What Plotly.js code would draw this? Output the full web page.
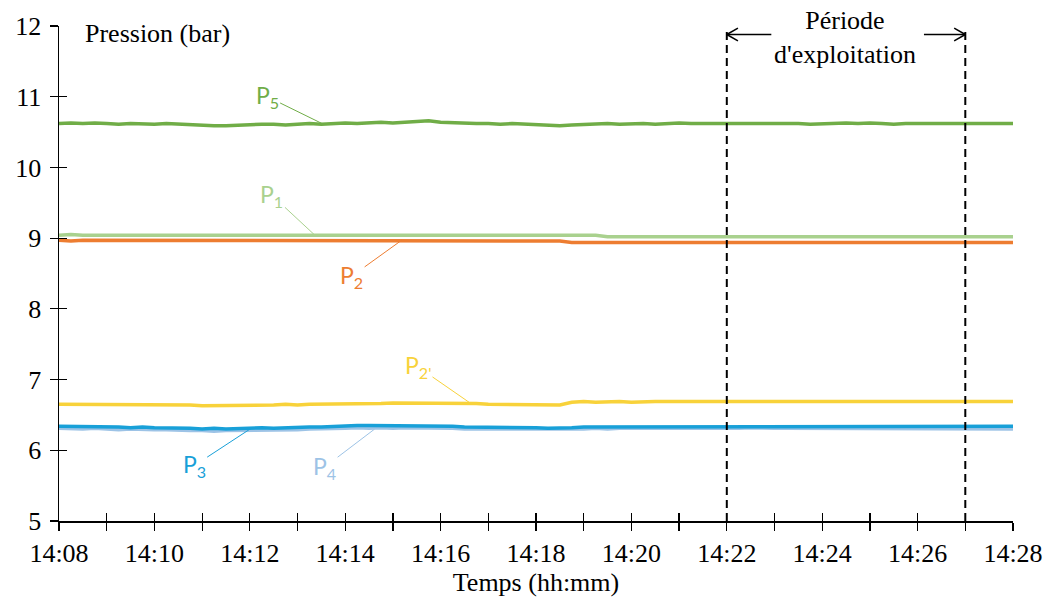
<!DOCTYPE html>
<html>
<head>
<meta charset="utf-8">
<script src="https://cdn.plot.ly/plotly-3.0.1.min.js"></script>
<style>html,body{margin:0;padding:0;background:#fff;}#chart{width:1048px;height:599px;}</style>
</head>
<body>
<div id="chart"></div>
<script>
// Sample times: every 15 s from 14:08:00 to 14:28:00
const startTime = '2000-01-01 14:08:00';
const stepSeconds = 15;
const nSamples = 81;

const P5 = [10.62,10.63,10.62,10.63,10.62,10.61,10.62,10.61,10.61,
  10.62,10.61,10.60,10.60,10.59,10.59,10.60,10.60,
  10.61,10.61,10.60,10.61,10.62,10.61,10.62,10.63,
  10.62,10.63,10.64,10.63,10.64,10.65,10.66,10.64,
  10.63,10.63,10.62,10.62,10.61,10.62,10.61,10.60,
  10.59,10.59,10.60,10.61,10.61,10.62,10.61,10.62,
  10.62,10.61,10.62,10.63,10.62,10.62,10.63,10.62,
  10.63,10.62,10.62,10.63,10.62,10.62,10.61,10.62,
  10.62,10.63,10.62,10.63,10.62,10.61,10.62,10.62,
  10.61,10.62,10.61,10.62,10.61,10.61,10.62,10.62];

const P1 = [9.04,9.05,9.04,9.04,9.05,9.04,9.04,9.05,9.04,
  9.04,9.05,9.04,9.04,9.05,9.04,9.04,9.04,
  9.04,9.04,9.05,9.04,9.04,9.05,9.04,9.04,
  9.04,9.05,9.04,9.04,9.05,9.04,9.05,9.04,
  9.04,9.05,9.04,9.04,9.04,9.04,9.04,9.04,
  9.04,9.04,9.04,9.04,9.04,9.02,9.02,9.03,
  9.02,9.02,9.03,9.02,9.02,9.02,9.03,9.02,
  9.02,9.03,9.02,9.02,9.03,9.03,9.02,9.03,
  9.03,9.02,9.03,9.02,9.03,9.02,9.03,9.02,
  9.02,9.03,9.02,9.02,9.03,9.02,9.02,9.02];

const P2 = [8.97,8.96,8.97,8.97,8.96,8.97,8.97,8.96,8.97,
  8.97,8.96,8.97,8.97,8.96,8.97,8.96,8.97,
  8.96,8.97,8.96,8.97,8.96,8.97,8.96,8.97,
  8.97,8.96,8.97,8.96,8.97,8.96,8.97,8.97,
  8.97,8.96,8.97,8.97,8.97,8.97,8.97,8.97,
  8.97,8.96,8.94,8.94,8.94,8.94,8.95,8.94,
  8.94,8.95,8.94,8.94,8.94,8.95,8.94,8.94,
  8.94,8.94,8.95,8.94,8.94,8.95,8.94,8.94,
  8.95,8.94,8.94,8.95,8.94,8.94,8.94,8.95,
  8.94,8.94,8.95,8.94,8.94,8.94,8.94,8.94];

const P2p = [6.65,6.65,6.64,6.65,6.65,6.65,6.64,6.65,6.65,
  6.64,6.64,6.64,6.63,6.63,6.64,6.63,6.64,
  6.64,6.64,6.65,6.64,6.65,6.65,6.65,6.65,
  6.65,6.66,6.66,6.67,6.67,6.66,6.67,6.67,
  6.67,6.66,6.66,6.65,6.65,6.65,6.64,6.64,
  6.64,6.64,6.68,6.69,6.68,6.69,6.69,6.68,
  6.69,6.69,6.69,6.69,6.69,6.69,6.69,6.69,
  6.69,6.69,6.69,6.69,6.69,6.69,6.69,6.69,
  6.69,6.69,6.69,6.69,6.69,6.69,6.69,6.69,
  6.69,6.69,6.69,6.69,6.69,6.69,6.69,6.69];

const P3 = [6.34,6.34,6.33,6.34,6.33,6.33,6.32,6.33,6.32,
  6.32,6.31,6.31,6.30,6.31,6.30,6.31,6.31,
  6.32,6.31,6.32,6.32,6.33,6.33,6.34,6.35,
  6.35,6.35,6.35,6.35,6.35,6.35,6.35,6.35,
  6.34,6.33,6.33,6.32,6.32,6.32,6.32,6.32,
  6.31,6.31,6.32,6.33,6.33,6.33,6.34,6.33,
  6.34,6.34,6.34,6.34,6.34,6.34,6.34,6.34,
  6.34,6.34,6.34,6.34,6.34,6.34,6.33,6.34,
  6.34,6.34,6.34,6.33,6.34,6.34,6.34,6.34,
  6.34,6.34,6.34,6.34,6.33,6.34,6.34,6.34];

const P4 = [6.31,6.30,6.30,6.31,6.30,6.29,6.30,6.29,6.29,
  6.29,6.28,6.28,6.28,6.27,6.28,6.28,6.28,
  6.29,6.28,6.29,6.29,6.30,6.30,6.31,6.31,
  6.32,6.31,6.32,6.31,6.32,6.32,6.31,6.32,
  6.31,6.30,6.30,6.30,6.29,6.29,6.29,6.29,
  6.29,6.29,6.30,6.30,6.31,6.30,6.31,6.31,
  6.31,6.31,6.31,6.30,6.31,6.31,6.31,6.31,
  6.31,6.32,6.31,6.31,6.31,6.31,6.30,6.31,
  6.31,6.31,6.31,6.30,6.31,6.31,6.31,6.31,
  6.30,6.31,6.31,6.31,6.30,6.31,6.31,6.30];

const xMinuteTicks = ['14:08','14:09','14:10','14:11','14:12','14:13','14:14','14:15','14:16','14:17','14:18',
  '14:19','14:20','14:21','14:22','14:23','14:24','14:25','14:26','14:27','14:28'];
const periodStart = '14:22';
const periodEnd = '14:27';

const day = '2000-01-01 ';
function pad(n){return (n<10?'0':'')+n;}
const times = [];
{
  const t0 = new Date(startTime.replace(' ','T'));
  for (let i=0;i<nSamples;i++){
    const d = new Date(t0.getTime()+i*stepSeconds*1000);
    times.push(day+pad(d.getHours())+':'+pad(d.getMinutes())+':'+pad(d.getSeconds()));
  }
}
const tv = xMinuteTicks.map(s=>day+s);

const C = {P5:'#70AD47',P1:'#A9D18E',P2:'#ED7D31',P2p:'#F8D23A',P3:'#18A0D8',P4:'#9DC3E6'};
const serif = 'Liberation Serif';
const sans = 'Lato';
const fs = 26;

function tr(y,c){return {x:times,y:y,type:'scatter',mode:'lines',line:{color:c,width:3.5},hoverinfo:'skip',showlegend:false};}
const data = [tr(P4,C.P4),tr(P3,C.P3),tr(P2p,C.P2p),tr(P1,C.P1),tr(P2,C.P2),tr(P5,C.P5)];

function lab(txt,sub,x,y,ax,ay,c){
  return {x:day+x,y:y,xref:'x',yref:'y',text:txt+'<sub>'+sub+'</sub>',showarrow:true,arrowhead:0,arrowwidth:1,arrowcolor:c,
    ax:ax,ay:ay,font:{family:sans,size:23,color:c}};
}
function seg(x0,y0,x1,y1){
  return {type:'line',xref:'x',yref:'y',x0:day+x0,y0:y0,x1:day+x1,y1:y1,line:{color:'#000',width:1.5}};
}
const arrowY = 11.88;

const layout = {
  width:1048,height:599,
  margin:{l:59,r:35,t:26,b:78},
  paper_bgcolor:'#fff',plot_bgcolor:'#fff',
  showlegend:false,
  font:{family:serif,color:'#000'},
  xaxis:{type:'date',range:[day+'14:08',day+'14:28'],showgrid:false,zeroline:false,
    showline:true,linecolor:'#000',linewidth:1.5,
    tick0:day+'14:08',dtick:120000,tickformat:'%H:%M',ticks:'outside',ticklen:8,tickwidth:1.2,tickcolor:'#000',
    minor:{tick0:day+'14:08',dtick:60000,ticks:'outside',ticklen:8,tickwidth:1.2,tickcolor:'#000',showgrid:false},
    ticklabelstandoff:0,
    tickfont:{family:serif,size:fs,color:'#000'},
    title:{text:'Temps (hh:mm)',font:{family:serif,size:fs,color:'#000'},standoff:2}},
  xaxis2:{type:'date',range:[day+'14:08',day+'14:28'],overlaying:'x',anchor:'y',side:'bottom',showgrid:false,zeroline:false,
    tickmode:'array',tickvals:tv,ticks:'inside',ticklen:8,tickwidth:1.2,tickcolor:'#000',showticklabels:false},
  yaxis:{range:[5,12],dtick:1,tick0:5,showgrid:false,zeroline:false,showline:true,linecolor:'#000',linewidth:1.5,
    ticks:'outside',ticklen:8,tickwidth:1.2,tickcolor:'#000',ticklabelstandoff:3,tickfont:{family:serif,size:fs,color:'#000'}},
  yaxis2:{range:[5,12],dtick:1,tick0:5,overlaying:'y',anchor:'x',side:'left',showgrid:false,zeroline:false,
    ticks:'inside',ticklen:8,tickwidth:1.2,tickcolor:'#000',showticklabels:false},
  shapes:[
    {type:'line',xref:'x',yref:'y',x0:day+periodStart,x1:day+periodStart,y0:5,y1:11.95,line:{color:'#000',width:2,dash:'8px,5px'}},
    {type:'line',xref:'x',yref:'y',x0:day+periodEnd,x1:day+periodEnd,y0:5,y1:11.95,line:{color:'#000',width:2,dash:'8px,5px'}},
    // left-pointing arrow at period start
    seg('14:22:00',arrowY,'14:22:56',arrowY),
    seg('14:22:00',arrowY,'14:22:14',arrowY+0.09),
    seg('14:22:00',arrowY,'14:22:14',arrowY-0.09),
    // right-pointing arrow at period end
    seg('14:26:08',arrowY,'14:27:00',arrowY),
    seg('14:27:00',arrowY,'14:26:46',arrowY+0.09),
    seg('14:27:00',arrowY,'14:26:46',arrowY-0.09)
  ],
  annotations:[
    {xref:'paper',yref:'y',x:0.025,y:11.9,xanchor:'left',yanchor:'middle',text:'Pression (bar)',showarrow:false,font:{family:serif,size:fs,color:'#000'}},
    {xref:'x',yref:'y',x:day+'14:24:29',y:11.84,xanchor:'center',yanchor:'middle',text:'Période<br>d\'exploitation',showarrow:false,font:{family:serif,size:fs,color:'#000'}},
    lab('P','5','14:13:31',10.62,-55,-27,C.P5),
    lab('P','1','14:13:22',9.04,-43,-40,C.P1),
    lab('P','2','14:15:11',8.97,-50,36,C.P2),
    lab('P','2\'','14:16:37',6.67,-52,-36,C.P2p),
    lab('P','3','14:12:03',6.32,-58,38,C.P3),
    lab('P','4','14:14:37',6.30,-50,38,C.P4)
  ]
};
data.push({x:[day+'14:08'],y:[5],xaxis:'x2',yaxis:'y2',type:'scatter',mode:'markers',marker:{opacity:0},hoverinfo:'skip',showlegend:false});
Plotly.newPlot('chart',data,layout,{staticPlot:true,displayModeBar:false});
</script>
</body>
</html>
